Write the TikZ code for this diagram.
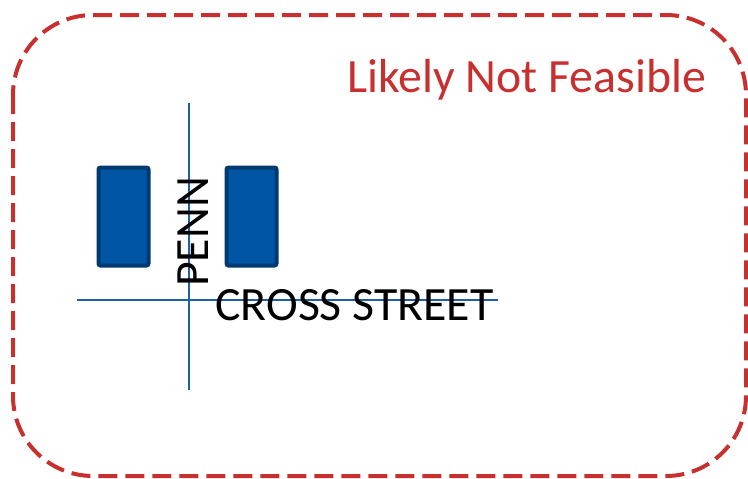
\documentclass[tikz,border=0pt]{standalone}
\usepackage{fontspec}
\setmainfont{Carlito}
\definecolor{frame}{HTML}{C8302F}
\definecolor{street}{HTML}{1F5FA8}
\definecolor{bldfill}{HTML}{0055A4}
\definecolor{bldline}{HTML}{003A70}
\tikzset{
  framebox/.style={draw=frame, line width=4pt, dash pattern=on 19pt off 8pt, rounded corners=80pt},
  streetline/.style={draw=street, line width=1.8pt},
  building/.style={draw=bldline, fill=bldfill, line width=4pt, rounded corners=2pt, minimum width=50pt, minimum height=98pt, inner sep=0pt},
  biglabel/.style={font=\fontsize{47.8}{57}\selectfont, inner sep=0pt},
}
\begin{document}
\begin{tikzpicture}[x=1pt,y=-1pt]
\useasboundingbox (0,0) rectangle (748,479);
\draw[framebox] (13,15) rectangle (746,476);
\coordinate (vtop) at (189,103);
\coordinate (vbot) at (189,390);
\coordinate (hl) at (77,300);
\coordinate (hr) at (498,300);
\draw[streetline] (vtop) -- (vbot);
\draw[streetline] (hl) -- (hr);
\node[building] (b1) at (123.5,216.5) {};
\node[building] (b2) at (251.5,216.5) {};
\node[biglabel, rotate=90, anchor=base] (penn) at (208,232) {PENN};
\node[biglabel, anchor=base] (cross) at (354.5,320) {CROSS STREET};
\node[biglabel, anchor=base, text=frame] (title) at (526.5,92) {Likely Not Feasible};
\end{tikzpicture}
\end{document}
